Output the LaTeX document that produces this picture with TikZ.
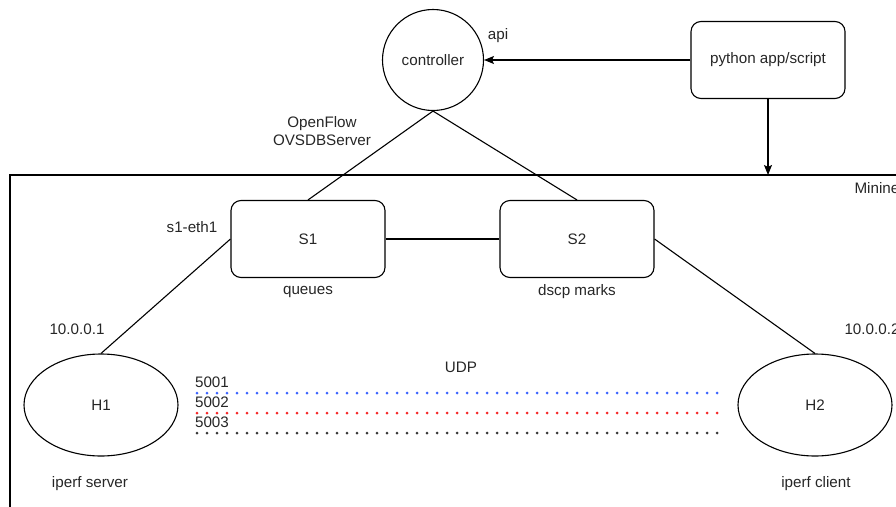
\documentclass[tikz,border=0pt]{standalone}
\usepackage{fontspec}
\setmainfont{Liberation Sans}
\usetikzlibrary{arrows.meta,shapes.geometric}

\definecolor{udpblue}{RGB}{60,100,255}
\definecolor{udpred}{RGB}{245,40,40}
\definecolor{udpgray}{RGB}{55,55,55}

\begin{document}
\begin{tikzpicture}[x=1pt,y=-1pt,
    every node/.style={font=\fontsize{15.2}{18}\selectfont,text=black!85},
    link/.style={line width=1.1pt},
    arr/.style={link,-{Stealth[length=10pt,width=8pt,inset=2pt]}},
    switchbox/.style={draw,line width=1.1pt,rounded corners=10pt,minimum width=154pt,minimum height=77pt,inner sep=0pt},
    hostnode/.style={draw,ellipse,line width=1.1pt,minimum width=154pt,minimum height=102pt,inner sep=0pt},
    udp/.style={line width=3pt,dash pattern=on 0pt off 10pt,line cap=round}]

    % frame of the page
    \useasboundingbox (0,0) rectangle (896,506);
    \clip (0,0) rectangle (896,506);

    % mininet frame
    \draw[link] (10,520) -- (10,175) -- (910,175);
    \coordinate (mntop) at (770,175);
    \node[anchor=west] (mnlabel) at (851,188) {Mininet};

    % controller and script
    \node[draw,circle,line width=1.1pt,minimum size=101pt,inner sep=0pt] (controller) at (433,60) {controller};
    \node (api) at (498,36) {api};
    \node[switchbox] (python) at (768,60) {python app/script};
    \draw[arr] (python.west) -- (controller.east);
    \draw[arr] (python.south) -- (python.south |- mntop);

    \node[align=center] (proto) at (322,131) {OpenFlow\\OVSDBServer};

    % switches
    \node[switchbox] (s1) at (308,239) {S1};
    \node[switchbox] (s2) at (577,239) {S2};
    \node (queues) at (308,292) {queues};
    \node (dscp) at (577,292) {dscp marks};
    \node (eth) at (192,227) {s1-eth1};

    \draw[link] (controller.south) -- (s1.north);
    \draw[link] (controller.south) -- (s2.north);
    \draw[link] (s1.east) -- (s2.west);

    % hosts
    \node[hostnode] (h1) at (101,405) {H1};
    \node[hostnode] (h2) at (815,405) {H2};
    \node (ip1) at (77,329) {10.0.0.1};
    \node[anchor=west] (ip2) at (841,329) {10.0.0.2};
    \node (srv) at (90,484) {iperf server};
    \node (cli) at (816,484) {iperf client};

    \draw[link] (s1.west) -- (h1.north);
    \draw[link] (s2.east) -- (h2.north);

    % udp flows
    \node (udplabel) at (461,367) {UDP};
    \foreach \yy/\col/\port in {393/udpblue/5001,413/udpred/5002,433/udpgray/5003}{
        \draw[udp,\col] (197,\yy) -- (722,\yy);
        \node at (212,\yy-11) {\port};
    }

\end{tikzpicture}
\end{document}
